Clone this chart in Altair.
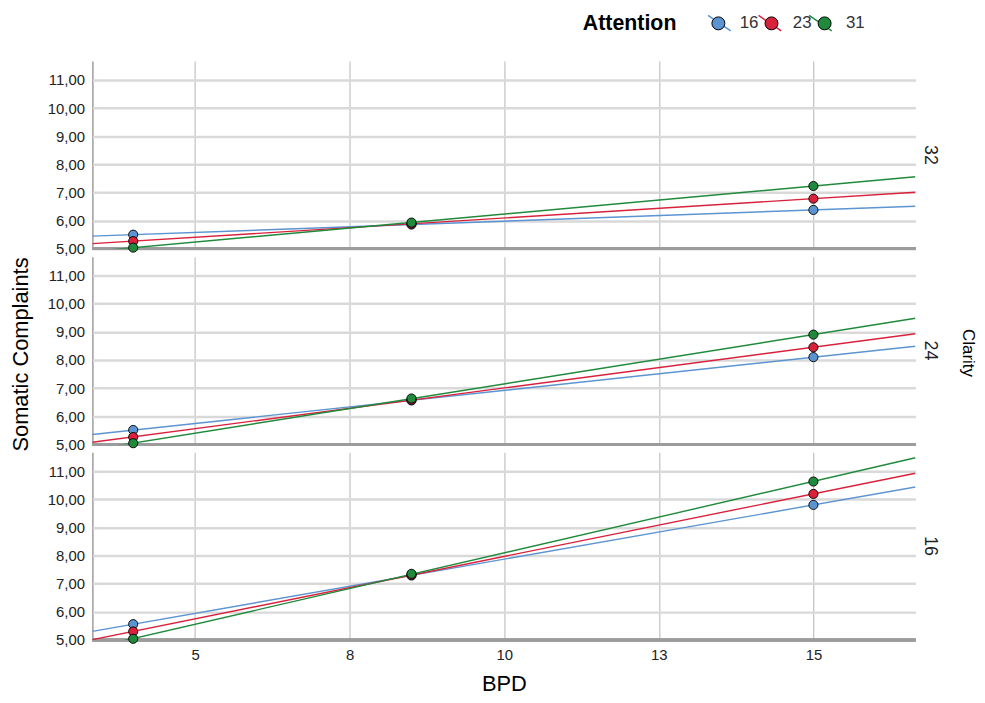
import altair as alt
import pandas as pd

clarity_levels = [32, 24, 16]
attention_levels = [16, 23, 31]
attention_labels = ["16", "23", "31"]
bpd_levels = [4.0, 8.5, 15.0]

# Somatic Complaints at each BPD level, per Clarity panel and Attention level
clarity_32 = {16: [5.50, 5.86, 6.38], 23: [5.27, 5.89, 6.78], 31: [5.04, 5.93, 7.23]}
clarity_24 = {16: [5.51, 6.56, 8.10], 23: [5.26, 6.58, 8.45], 31: [5.04, 6.63, 8.90]}
clarity_16 = {16: [5.56, 7.29, 9.80], 23: [5.30, 7.31, 10.19], 31: [5.04, 7.35, 10.63]}

x_ticks = [5, 7.5, 10, 12.5, 15]
y_ticks = [5, 6, 7, 8, 9, 10, 11]
x_domain = [3.34, 16.65]
y_domain = [5, 11.67]
colors = ["#5B94D1", "#D9213C", "#1F8A3B"]

rows = []
for c, table in zip(clarity_levels, [clarity_32, clarity_24, clarity_16]):
    for a, lab in zip(attention_levels, attention_labels):
        for b, v in zip(bpd_levels, table[a]):
            rows.append({"Clarity": c, "Attention": a, "AttentionLine": lab, "BPD": b, "value": v})
df = pd.DataFrame(rows)

xenc = alt.X("BPD:Q", scale=alt.Scale(domain=x_domain, nice=False, zero=False),
             axis=alt.Axis(values=x_ticks, format=".0f", title="BPD", domain=False,
                           grid=True, gridColor="#c6c6c6", gridWidth=1.3))
yenc = alt.Y("value:Q", scale=alt.Scale(domain=y_domain, nice=False, zero=False),
             axis=alt.Axis(values=y_ticks, tickCount=20, title=None, labelOverlap=False,
                           grid=True, gridColor="#d9d9d9", gridWidth=2.5,
                           labelExpr="replace(format(datum.value, '.2f'), '.', ',')"))

common_legend = dict(orient="none", direction="horizontal", legendY=-47, symbolSize=170,
                     labelFontSize=17, labelFont="Liberation Sans", labelOffset=13)

# circles with labels (on top), no title
fill_legend = alt.Legend(title=None, symbolType="circle", legendX=622,
                         symbolStrokeColor="black", symbolStrokeWidth=1, symbolOpacity=1,
                         labelColor="#333333", columnPadding=3.5, zindex=2,
                         **common_legend)
# diagonal line symbols with the legend title, labels left empty
line_legend = alt.Legend(title="Attention", titleOrient="left", legendX=494,
                         titleFontSize=21.5, titleFont="Liberation Sans", titleFontWeight="bold",
                         titleColor="#000000", titlePadding=34,
                         symbolType="M-1.75,-1.2L1.75,1.2", symbolStrokeWidth=1.5, symbolOpacity=1,
                         labelExpr="''", columnPadding=14.9, zindex=1,
                         **common_legend)

base = alt.Chart(df)

baseline = base.mark_rule(color="#9c9c9c", strokeWidth=2.5).encode(y=alt.datum(5))

lines = base.transform_regression(
    "BPD", "value", groupby=["AttentionLine", "Clarity"], extent=x_domain
).mark_line(clip=True, strokeWidth=1.4).encode(
    x=xenc, y=yenc,
    stroke=alt.Stroke("AttentionLine:N", scale=alt.Scale(domain=attention_labels, range=colors),
                      legend=line_legend))

points = base.mark_circle(size=85, opacity=1, stroke="black", strokeWidth=0.9).encode(
    x=xenc, y=yenc,
    fill=alt.Fill("Attention:N", scale=alt.Scale(domain=attention_levels, range=colors),
                  legend=fill_legend))

chart = alt.layer(baseline, lines, points).properties(
    width=829, height=189
).facet(
    row=alt.Row("Clarity:O", sort="descending",
                header=alt.Header(title="Clarity", titleOrient="right", titleAngle=90,
                                  labelOrient="right", labelAngle=90,
                                  titleFontSize=17, titleFont="Liberation Sans",
                                  titleFontWeight="normal", titleColor="#000000",
                                  titlePadding=10,
                                  labelFontSize=18, labelFont="Liberation Sans",
                                  labelColor="#222222", labelPadding=6))
).properties(
    spacing=8,
    bounds="flush",
    padding={"left": 2, "top": 4, "right": 0, "bottom": 0},
    title=alt.TitleParams("Somatic Complaints", orient="left", anchor="middle",
                          fontSize=22, font="Liberation Sans", fontWeight="normal",
                          color="#000000", offset=14),
).configure_view(stroke=None).configure_axis(
    labelFont="Liberation Sans", labelFontSize=15, labelColor="#222222",
    titleFont="Liberation Sans", titleFontSize=22, titleFontWeight="normal", titleColor="#000000",
    ticks=False, domainColor="#9c9c9c",
).configure_axisY(
    domainWidth=1.5, labelPadding=8,
).configure_axisX(
    labelPadding=8, titlePadding=11,
)

chart.save("out.html", embed_options={"renderer": "svg", "actions": False})
